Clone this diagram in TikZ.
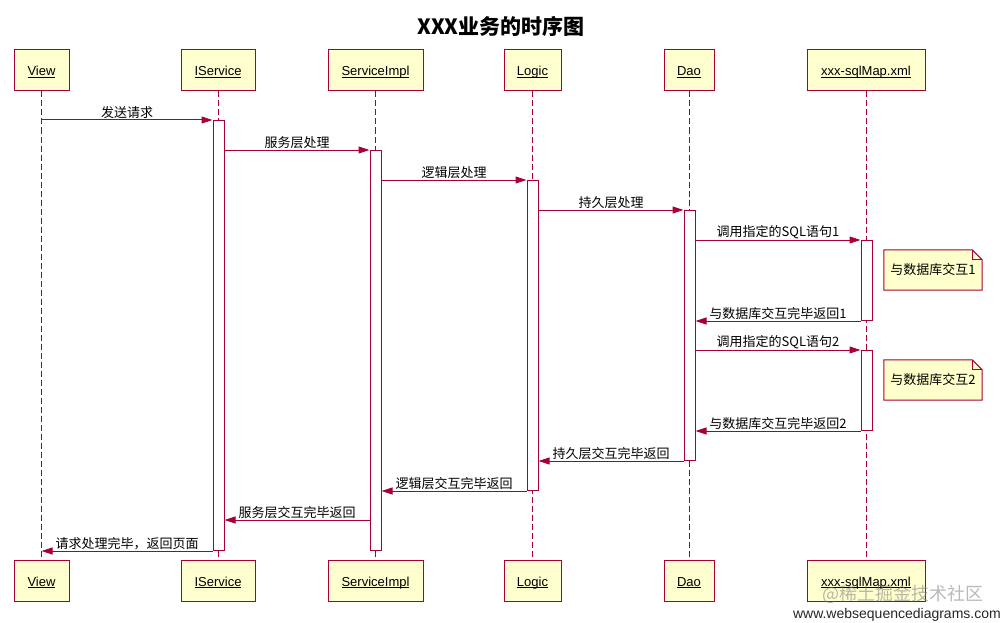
\documentclass[tikz,border=0pt]{standalone}
\usepackage{fontspec}
\setmainfont{Liberation Sans}
\newfontfamily\cjk{Noto Sans CJK SC}
\usetikzlibrary{arrows.meta}
\definecolor{bord}{HTML}{A80036}
\definecolor{fillc}{HTML}{FEFECE}
\definecolor{notec}{HTML}{FFFFCC}
\newcommand\myul[1]{\setbox0\hbox{#1}\rlap{\rule[-1.8pt]{\wd0}{0.9pt}}\box0}
\begin{document}
\begin{tikzpicture}[x=1pt,y=-1pt,
  part/.style={draw=bord, fill=fillc, line width=1pt, minimum height=41pt, inner sep=0pt, text height=11pt, text depth=0pt, font=\fontsize{13}{15}\selectfont},
  life/.style={draw=bord, line width=0.9pt, dash pattern=on 6pt off 3pt},
  actbar/.style={draw=bord, fill=white, line width=1pt, minimum width=11pt, inner sep=0pt, anchor=north},
  msg/.style={draw=bord, line width=1pt, -{Triangle[length=11pt,width=7pt]}},
  lbl/.style={font=\cjk\fontsize{13}{15}\selectfont, anchor=south, inner sep=0pt, yshift=1pt},
  notebox/.style={minimum width=98pt, minimum height=40pt, inner sep=0pt, font=\cjk\fontsize{13}{15}\selectfont},
  noteline/.style={draw=bord, fill=notec, line width=1pt}
]
\useasboundingbox (0,0) rectangle (1003,623);
\fill[white] (0,0) rectangle (1003,623);

\node[font=\cjk\bfseries\fontsize{21}{23}\selectfont] (title) at (501,26) {XXX业务的时序图};

% participants top
\node[part, minimum width=55pt]  (tView) at (41.5,70.5)  {\myul{View}};
\node[part, minimum width=74pt]  (tIS)   at (218,70.5)   {\myul{IService}};
\node[part, minimum width=95pt]  (tSI)   at (375.5,70.5) {\myul{ServiceImpl}};
\node[part, minimum width=57pt]  (tLg)   at (532.5,70.5) {\myul{Logic}};
\node[part, minimum width=50pt]  (tDao)  at (689,70.5)   {\myul{Dao}};
\node[part, minimum width=118pt] (tX)    at (866,70.5)   {\myul{xxx-sqlMap.xml}};
% participants bottom
\node[part, minimum width=55pt]  (bView) at (41.5,580.5)  {\myul{View}};
\node[part, minimum width=74pt]  (bIS)   at (218,580.5)   {\myul{IService}};
\node[part, minimum width=95pt]  (bSI)   at (375.5,580.5) {\myul{ServiceImpl}};
\node[part, minimum width=57pt]  (bLg)   at (532.5,580.5) {\myul{Logic}};
\node[part, minimum width=50pt]  (bDao)  at (689,580.5)   {\myul{Dao}};
\node[part, minimum width=118pt] (bX)    at (866,580.5)   {\myul{xxx-sqlMap.xml}};

% lifelines
\draw[life] (tView.south) -- (bView.north);
\draw[life] (tIS.south) -- (bIS.north);
\draw[life] (tSI.south) -- (bSI.north);
\draw[life] (tLg.south) -- (bLg.north);
\draw[life] (tDao.south) -- (bDao.north);
\draw[life] (tX.south) -- (bX.north);

% activation bars
\node[actbar, minimum height=430pt] (aIS)  at (218.5,120) {};
\node[actbar, minimum height=400pt] (aSI)  at (375.5,150) {};
\node[actbar, minimum height=310pt] (aLg)  at (532.5,180) {};
\node[actbar, minimum height=250pt] (aDao) at (689.5,210) {};
\node[actbar, minimum height=80pt]  (aX1)  at (866.5,240) {};
\node[actbar, minimum height=80pt]  (aX2)  at (866.5,350) {};

\coordinate (r11) at (300,520);

% messages
\draw[msg] (tView.south |- aIS.north) -- (aIS.north west) node[lbl, midway] {发送请求};
\draw[msg] (aIS.east |- aSI.north) -- (aSI.north west) node[lbl, midway] {服务层处理};
\draw[msg] (aSI.east |- aLg.north) -- (aLg.north west) node[lbl, midway] {逻辑层处理};
\draw[msg] (aLg.east |- aDao.north) -- (aDao.north west) node[lbl, midway] {持久层处理};
\draw[msg] (aDao.east |- aX1.north) -- (aX1.north west) node[lbl, midway] {调用指定的SQL语句1};
\draw[msg] (aX1.south west) -- (aDao.east |- aX1.south) node[lbl, midway] {与数据库交互完毕返回1};
\draw[msg] (aDao.east |- aX2.north) -- (aX2.north west) node[lbl, midway] {调用指定的SQL语句2};
\draw[msg] (aX2.south west) -- (aDao.east |- aX2.south) node[lbl, midway] {与数据库交互完毕返回2};
\draw[msg] (aDao.south west) -- (aLg.east |- aDao.south) node[lbl, midway] {持久层交互完毕返回};
\draw[msg] (aLg.south west) -- (aSI.east |- aLg.south) node[lbl, midway] {逻辑层交互完毕返回};
\draw[msg] (aSI.west |- r11) -- (aIS.east |- r11) node[lbl, midway] {服务层交互完毕返回};
\draw[msg] (aIS.south west) -- (tView.south |- aIS.south) node[lbl, midway] {请求处理完毕，返回页面};

% notes
\node[notebox] (n1) at (933,270) {};
\draw[noteline] (n1.north west) -- ([xshift=-10pt]n1.north east) -- ([yshift=-10pt]n1.north east) -- (n1.south east) -- (n1.south west) -- cycle;
\draw[bord, line width=0.8pt] ([xshift=-10pt]n1.north east) -- ([xshift=-10pt,yshift=-10pt]n1.north east) -- ([yshift=-10pt]n1.north east);
\node[notebox] (n1t) at (n1.center) {与数据库交互1};

\node[notebox] (n2) at (933,380) {};
\draw[noteline] (n2.north west) -- ([xshift=-10pt]n2.north east) -- ([yshift=-10pt]n2.north east) -- (n2.south east) -- (n2.south west) -- cycle;
\draw[bord, line width=0.8pt] ([xshift=-10pt]n2.north east) -- ([xshift=-10pt,yshift=-10pt]n2.north east) -- ([yshift=-10pt]n2.north east);
\node[notebox] (n2t) at (n2.center) {与数据库交互2};

% watermarks
\node[font=\cjk\fontsize{18}{20}\selectfont, text=gray, opacity=0.55, anchor=east, inner sep=0pt] (wm) at (984,594) {@稀土掘金技术社区};
\node[font=\fontsize{14}{16}\selectfont, text=black!85, anchor=east, inner sep=0pt] (url) at (1001,615) {www.websequencediagrams.com};
\end{tikzpicture}
\end{document}
